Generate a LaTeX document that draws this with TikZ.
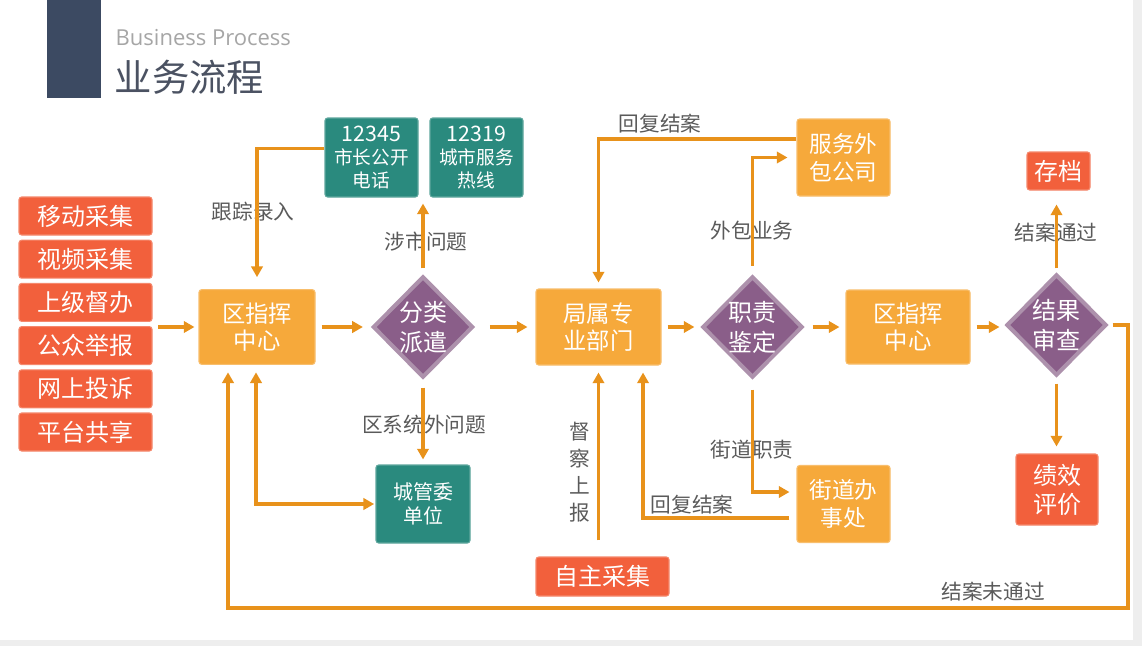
\documentclass[tikz,border=0pt]{standalone}
\usepackage{fontspec}
\setmainfont{Noto Sans CJK SC}
\newfontfamily\latinfont{Open Sans}
\usetikzlibrary{shapes.geometric,arrows.meta,calc}
\definecolor{redc}{HTML}{F2603C}
\definecolor{orgc}{HTML}{F6A93B}
\definecolor{tealc}{HTML}{2A8A7E}
\definecolor{purc}{HTML}{8A5E89}
\definecolor{rimc}{HTML}{AD91AC}
\definecolor{linec}{HTML}{E8921B}
\definecolor{labc}{HTML}{5A5A5A}
\definecolor{headc}{HTML}{3C4A62}
\definecolor{titlec}{HTML}{4B5262}
\definecolor{framec}{HTML}{EEEEEE}
\newcommand{\hotnum}[1]{{\fontsize{16}{17.25}\selectfont #1}}
\begin{document}
\begin{tikzpicture}[x=0.75pt,y=-0.75pt,
  >={Triangle[length=8pt,width=8.5pt]},
  box/.style={rectangle,rounded corners=2pt,draw=#1!75!white,line width=0.8pt,fill=#1,text=white,align=center,inner sep=0pt},
  redbox/.style={box=redc,font=\fontsize{18}{22}\selectfont},
  orgbox/.style={box=orgc,font=\fontsize{17.5}{20}\selectfont},
  tealbox/.style={box=tealc,font=\fontsize{14}{17.25}\selectfont,minimum width=69.75pt,minimum height=59.25pt},
  decide/.style={diamond,draw=rimc,line width=3pt,fill=purc,text=white,align=center,inner sep=0pt,
    minimum width=75pt,minimum height=76pt,font=\fontsize{18}{22.5}\selectfont},
  link/.style={draw=linec,line width=2.5pt},
  lab/.style={text=labc,font=\fontsize{15.5}{18}\selectfont}]
\useasboundingbox (0,0) rectangle (1142,646);
\fill[framec] (0,0) rectangle (1142,646);
\fill[white] (0,0) rectangle (1133,640);

% Header
\fill[headc] (47,0) rectangle (101,98);
\node[anchor=west,text=black!35,font=\latinfont\fontsize{16.5}{18}\selectfont] (entitle) at (111,38) {Business Process};
\node[anchor=west,text=titlec,font=\fontsize{28}{32}\selectfont] (cntitle) at (110,77) {业务流程};

% Sources
\foreach \t [count=\i from 0] in {移动采集,视频采集,上级督办,公众举报,网上投诉,平台共享}
    \node[redbox,minimum width=99.75pt,minimum height=28.5pt] (src\i) at (85.5,{216+43.2*\i}) {\t};
\coordinate (in) at (158,327);

% Main row
\node[orgbox,minimum width=87pt,minimum height=56pt] (cmd1) at (257,327) {区指挥\\中心};
\node[decide] (sort) at (423,327) {分类\\派遣};
\node[orgbox,minimum width=93.75pt,minimum height=57pt] (dept) at (598.5,327) {局属专\\业部门};
\node[decide] (duty) at (752.5,327) {职责\\鉴定};
\node[orgbox,minimum width=93pt,minimum height=55.5pt] (cmd2) at (908,327) {区指挥\\中心};
\node[decide] (check) at (1056.5,325) {结果\\审查};

% Side boxes
\node[tealbox] (hot1) at (371.5,157.5) {\hotnum{12345}\\市长公开\\电话};
\node[tealbox] (hot2) at (476.5,157.5) {\hotnum{12319}\\城市服务\\热线};
\node[tealbox,font=\fontsize{15}{18}\selectfont,minimum width=70.5pt,minimum height=58.5pt] (cgw) at (423,504) {城管委\\单位};
\node[redbox,minimum width=99.75pt,minimum height=29.25pt] (self) at (602.5,576.5) {自主采集};
\node[orgbox,font=\fontsize{17}{21}\selectfont,minimum width=69.75pt,minimum height=57.75pt] (outs) at (843.5,157.5) {服务外\\包公司};
\node[orgbox,font=\fontsize{17}{21}\selectfont,minimum width=69.75pt,minimum height=57.75pt] (street) at (843.5,504) {街道办\\事处};
\node[redbox,minimum width=47.25pt,minimum height=28.5pt] (arch) at (1058.5,171) {存档};
\node[redbox,font=\fontsize{18}{21.75}\selectfont,minimum width=61.5pt,minimum height=53.25pt] (eval) at (1057,489.5) {绩效\\评价};
\coordinate (hot) at ($(hot1.south)!0.5!(hot2.south)$);
\coordinate (back) at (1128,608);

% Labels
\node[lab] (l1) at (253,212) {跟踪录入};
\node[lab] (l2) at (426,242) {涉市问题};
\node[lab] (l3) at (424,425) {区系统外问题};
\node[lab] (l4) at (660,124) {回复结案};
\node[lab] (l5) at (752,231) {外包业务};
\node[lab,align=center,font=\fontsize{15.5}{20.25}\selectfont] (l6) at (580,472) {督\\察\\上\\报};
\node[lab] (l7) at (692,505) {回复结案};
\node[lab] (l8) at (752,450) {街道职责};
\node[lab] (l9) at (1056,233) {结案通过};
\node[lab] (l10) at (993,592) {结案未通过};

% Main flow
\draw[link,->,shorten >=3pt] (in) -- (cmd1.west);
\draw[link,->,shorten <=4.5pt,shorten >=6pt] (cmd1.east) -- (sort.west);
\draw[link,->,shorten <=11pt,shorten >=6pt] (sort.east) -- (dept.west);
\draw[link,->,shorten <=4.5pt,shorten >=4.5pt] (dept.east) -- (duty.west);
\draw[link,->,shorten <=6pt,shorten >=4.5pt] (duty.east) -- (cmd2.west);
\draw[link,->,shorten <=4.5pt,shorten >=3.75pt] (cmd2.east) -- (cmd2.east -| check.west);

% Dispatch branches
\draw[link,->,shorten >=9pt] ([yshift=7pt]hot1.west) -| (cmd1.north);
\draw[link,->,shorten <=4.5pt,shorten >=4.5pt] (sort.north) -- (sort.north |- hot);
\draw[link,->,shorten <=6pt,shorten >=3.75pt] (sort.south) -- (cgw.north);
\draw[link,<->,shorten <=5.6pt,shorten >=1pt] ([xshift=-0.75pt]cmd1.south) |- (cgw.west);

% Department branches
\draw[link,->,shorten >=4.5pt] ([yshift=13.9pt]outs.west) -| (dept.north);
\draw[link,->,shorten <=12pt,shorten >=5.25pt] (self.north -| dept.south) -- (dept.south);
\draw[link,->,shorten <=5.25pt,shorten >=5.25pt] ([yshift=-10.5pt]street.west) -| ([xshift=33.4pt]dept.south);
\draw[link,->,shorten <=6.4pt,shorten >=6.75pt] (duty.north) |- (outs.west);
\draw[link,->,shorten <=7.5pt,shorten >=5.25pt] (duty.south) |- ([yshift=9pt]street.west);

% Result check
\draw[link,->,shorten <=3pt,shorten >=10.5pt] (check.north) -- (check.north |- arch.south);
\draw[link,->,shorten <=4.5pt,shorten >=5.25pt] (check.south) -- (check.south |- eval.north);
\draw[link,->,shorten <=3pt,shorten >=5.6pt] (check.east) -| (back) -| ([xshift=-21.75pt]cmd1.south);
\end{tikzpicture}
\end{document}
